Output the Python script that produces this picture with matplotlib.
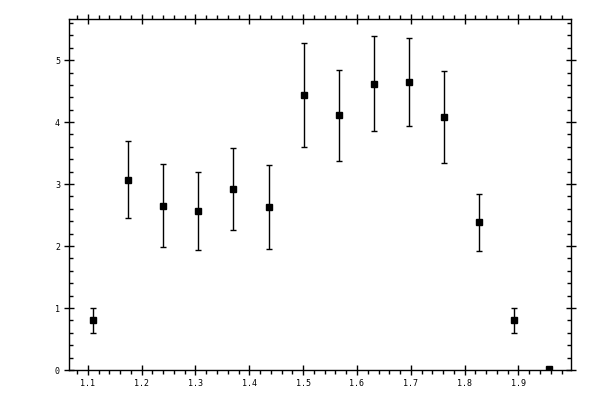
import matplotlib
matplotlib.use("Agg")
import matplotlib.pyplot as plt
from matplotlib.ticker import MultipleLocator, FormatStrFormatter

# data
x_vals = [1.109, 1.174, 1.239, 1.305, 1.370, 1.436, 1.501,
          1.566, 1.631, 1.697, 1.762, 1.827, 1.892, 1.957]
y_vals = [0.80, 3.07, 2.65, 2.56, 2.92, 2.63, 4.44,
          4.11, 4.62, 4.65, 4.08, 2.38, 0.80, 0.02]
y_err = [0.20, 0.62, 0.67, 0.63, 0.66, 0.67, 0.84,
         0.73, 0.77, 0.71, 0.74, 0.46, 0.20, 0.0]

fig = plt.figure(figsize=(6, 4), dpi=100)
ax = fig.add_axes([0.115, 0.075, 0.837, 0.877])

ax.errorbar(x_vals, y_vals, yerr=y_err, fmt='s', color='black',
            markersize=5, elinewidth=1, capsize=2, capthick=1)

ax.set_xlim(1.065, 1.998)
ax.set_ylim(0, 5.66)

ax.xaxis.set_major_locator(MultipleLocator(0.1))
ax.xaxis.set_minor_locator(MultipleLocator(0.02))
ax.xaxis.set_major_formatter(FormatStrFormatter('%.1f'))
ax.yaxis.set_major_locator(MultipleLocator(1))
ax.yaxis.set_minor_locator(MultipleLocator(0.2))
ax.yaxis.set_major_formatter(FormatStrFormatter('%d'))

ax.tick_params(which='major', direction='inout', length=7, width=1,
               top=True, right=True, labelsize=6, pad=3)
ax.tick_params(axis='x', which='minor', direction='out', length=3, width=1,
               top=True)
ax.tick_params(axis='y', which='minor', direction='in', length=3, width=1,
               right=True)
for lab in ax.get_xticklabels() + ax.get_yticklabels():
    lab.set_family('DejaVu Sans Mono')

for s in ax.spines.values():
    s.set_linewidth(1)

fig.savefig('out.png', dpi=100)
